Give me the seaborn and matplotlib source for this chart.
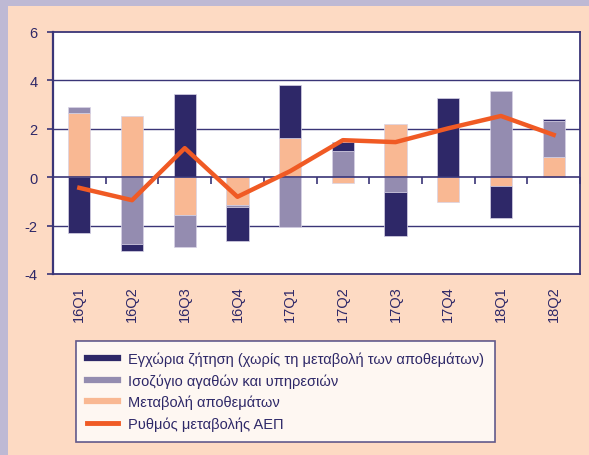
import numpy as np
import pandas as pd
import seaborn as sns
import matplotlib.pyplot as plt
from matplotlib.lines import Line2D
from matplotlib.patches import Rectangle

quarters = ["16Q1", "16Q2", "16Q3", "16Q4", "17Q1", "17Q2", "17Q3", "17Q4", "18Q1", "18Q2"]
domestic = [-2.31, -0.30, 3.44, -1.40, 2.18, 0.37, -1.80, 3.28, -1.31, 0.10]
balance = [0.25, -2.75, -1.31, -0.11, -2.07, 1.10, -0.61, 0.00, 3.55, 1.49]
inventory = [2.64, 2.51, -1.56, -1.13, 1.61, -0.25, 2.18, -1.01, -0.37, 0.83]
gdp = [-0.44, -0.95, 1.20, -0.81, 0.25, 1.53, 1.45, 2.02, 2.53, 1.75]

labels = ["Εγχώρια ζήτηση (χωρίς τη μεταβολή των αποθεμάτων)",
          "Ισοζύγιο αγαθών και υπηρεσιών",
          "Μεταβολή αποθεμάτων",
          "Ρυθμός μεταβολής ΑΕΠ"]

navy = "#2E2868"
lav = "#948CB0"
peach = "#F9B893"
orange = "#F05A24"
bg = "#FDDAC3"
border = "#BEB9D4"
axcol = "#3A3577"

plt.rcParams["font.family"] = ["Liberation Sans", "DejaVu Sans"]

fig = plt.figure(figsize=(5.89, 4.56), dpi=100, facecolor=border)
fig.add_artist(Rectangle((8 / 589, 0), 1, 1 - 7 / 456, transform=fig.transFigure,
                         facecolor=bg, edgecolor="none", zorder=-10))
ax = fig.add_axes([53 / 589, 1 - 275 / 456, (580 - 53) / 589, (275 - 33) / 456])
ax.set_facecolor("white")

# stack order away from zero: inventory, balance, domestic (separately for +/-)
series = [(inventory, peach), (balance, lav), (domestic, navy)]
pos_base = np.zeros(len(quarters))
neg_base = np.zeros(len(quarters))
for vals, col in series:
    v = np.array(vals, dtype=float)
    bottom = np.where(v >= 0, pos_base, neg_base)
    df = pd.DataFrame({"q": quarters, "v": v})
    sns.barplot(data=df, x="q", y="v", order=quarters, color=col, saturation=1,
                errorbar=None, width=0.42, bottom=bottom, edgecolor="#D8D3E6",
                linewidth=0.5, ax=ax, zorder=3)
    pos_base = pos_base + np.where(v > 0, v, 0)
    neg_base = neg_base + np.where(v < 0, v, 0)

sns.lineplot(x=quarters, y=gdp, sort=False, color=orange, linewidth=3.2, ax=ax, zorder=5)

ax.set_xlim(-0.5, len(quarters) - 0.5)
ax.set_ylim(-4, 6)
ax.set_yticks([-4, -2, 0, 2, 4, 6])
ax.set_yticklabels(["-4", "-2", "0", "2", "4", "6"])
for yv in [-2, 2, 4]:
    ax.axhline(yv, color=axcol, lw=1.0, zorder=1)
ax.axhline(0, color=axcol, lw=1.2, zorder=4)
ax.set_xlabel("")
ax.set_ylabel("")
for s in ax.spines.values():
    s.set_color(axcol)
    s.set_linewidth(1.3)
ax.spines["left"].set_linewidth(1.6)

ax.tick_params(axis="y", colors=axcol, labelcolor=navy, labelsize=10.5, length=4, width=1.2, pad=7)
ax.tick_params(axis="x", length=0, labelcolor=navy, labelsize=10.5, labelrotation=90, pad=8)

# category separators hanging from the zero line
sec = ax.secondary_xaxis(0.4)
sec.set_xticks(np.arange(len(quarters)) + 0.5)
sec.set_xticklabels([])
sec.tick_params(axis="x", direction="out", length=5, width=1.2, colors=axcol)
sec.spines["bottom"].set_visible(False)

handles = [Line2D([], [], color=navy, lw=4.5),
           Line2D([], [], color=lav, lw=4.5),
           Line2D([], [], color=peach, lw=4.5),
           Line2D([], [], color=orange, lw=3.5)]
leg = fig.legend(handles, labels, loc="upper left", bbox_to_anchor=(76 / 589, 1 - 342 / 456),
                 frameon=True, fancybox=False, fontsize=10.5, handlelength=2.1,
                 handletextpad=0.75, labelspacing=0.48, borderpad=0.75, borderaxespad=0)
leg.get_frame().set_edgecolor(axcol)
leg.get_frame().set_linewidth(1.2)
leg.get_frame().set_facecolor("white")
for t in leg.get_texts():
    t.set_color(navy)

fig.savefig("out.png", dpi=100, facecolor=fig.get_facecolor())
